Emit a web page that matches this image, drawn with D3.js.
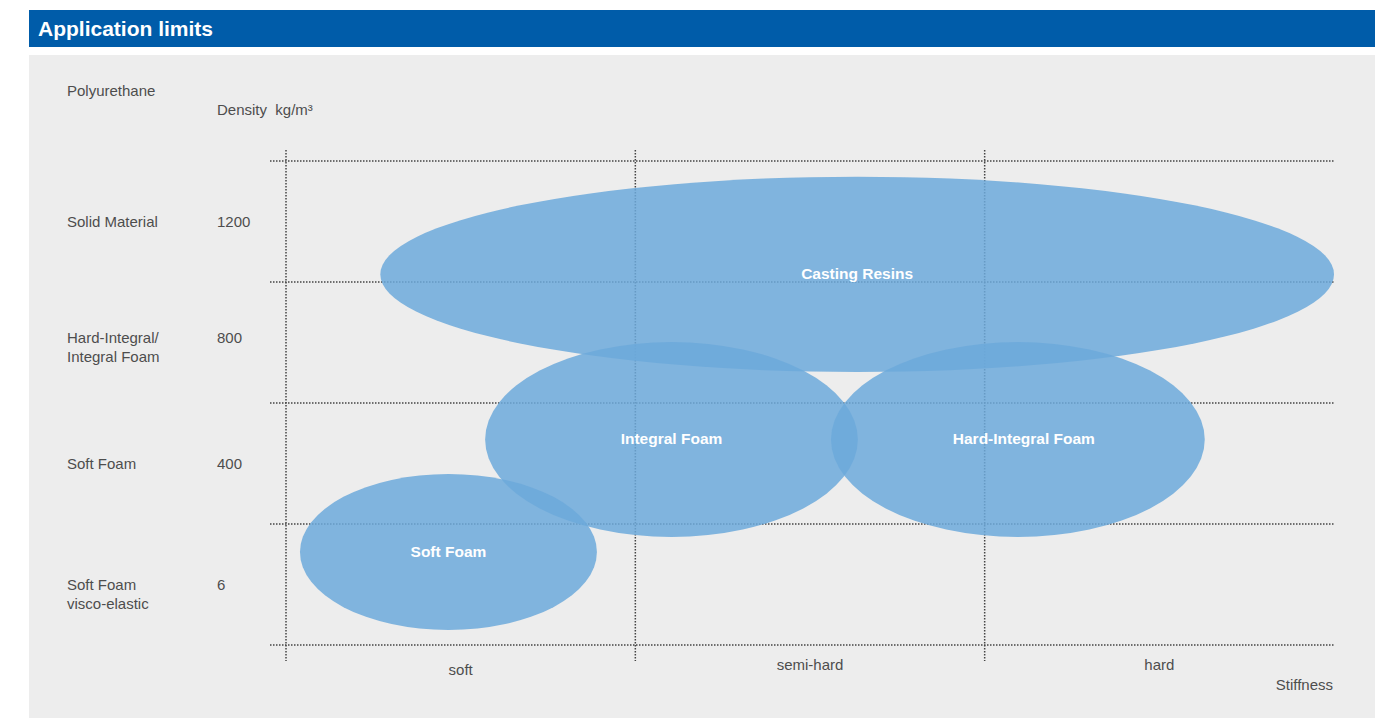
<!DOCTYPE html>
<html lang="en">
<head>
    <meta charset="UTF-8">
    <title>application-limits</title>
    <script src="https://cdn.jsdelivr.net/npm/d3@7/dist/d3.min.js"></script>
    <style>
        body{
            margin: 0;
            background: #fff;
        }
        text{
            font-family: "Liberation Sans", Arial, Helvetica, sans-serif;
        }
    </style>
</head>
<body>
<svg class="chart"></svg>
<script>

    // data
    var stiffnessLabels = ["soft", "semi-hard", "hard"];
    var densityLabels = ["6", "400", "800", "1200"];
    var materialLabels = [["Soft Foam", "visco-elastic"], ["Soft Foam"], ["Hard-Integral/", "Integral Foam"], ["Solid Material"]];
    var foamNames = ["Casting Resins", "Integral Foam", "Hard-Integral Foam", "Soft Foam"];
    // extents in stiffness columns (0..3) and density rows (0..4)
    var stiffMin = [0.27, 0.57, 1.56, 0.04];
    var stiffMax = [3.0, 1.637, 2.63, 0.89];
    var densMin = [2.256, 0.893, 0.893, 0.124];
    var densMax = [3.87, 2.504, 2.504, 1.413];

    var width = 1379, height = 718;

    var svg = d3.select('.chart')
        .attr('width', width)
        .attr('height', height);

    // header + panel
    svg.append('rect').attr('x', 29).attr('y', 10).attr('width', 1346).attr('height', 37).attr('fill', '#005ca9');
    svg.append('text').attr('x', 38).attr('y', 36).attr('fill', '#fff')
        .attr('font-size', 21).attr('font-weight', 'bold').text('Application limits');
    svg.append('rect').attr('x', 29).attr('y', 55).attr('width', 1346).attr('height', 663).attr('fill', '#ededed');

    // scales
    var x = d3.scaleLinear().domain([0, 3]).range([286, 1334]);
    var y = d3.scaleLinear().domain([0, 4]).range([645, 161]);

    // grid
    var grid = svg.append('g')
        .attr('stroke', '#444')
        .attr('stroke-width', 1.5)
        .attr('stroke-dasharray', '1.5 1.5');

    grid.selectAll('line.h')
        .data(d3.range(0, 5))
        .enter().append('line')
        .attr('class', 'h')
        .attr('x1', 270).attr('x2', x(3))
        .attr('y1', function (d) { return y(d); })
        .attr('y2', function (d) { return y(d); });

    grid.selectAll('line.v')
        .data(d3.range(0, 3))
        .enter().append('line')
        .attr('class', 'v')
        .attr('x1', function (d) { return x(d); })
        .attr('x2', function (d) { return x(d); })
        .attr('y1', y(4) - 11).attr('y2', y(0) + 16);

    // ellipses
    var foams = foamNames.map(function (n, i) {
        return {name: n, x0: stiffMin[i], x1: stiffMax[i], y0: densMin[i], y1: densMax[i]};
    });

    svg.append('g').selectAll('ellipse')
        .data(foams)
        .enter().append('ellipse')
        .attr('cx', function (d) { return (x(d.x0) + x(d.x1)) / 2; })
        .attr('cy', function (d) { return (y(d.y0) + y(d.y1)) / 2; })
        .attr('rx', function (d) { return (x(d.x1) - x(d.x0)) / 2; })
        .attr('ry', function (d) { return (y(d.y0) - y(d.y1)) / 2; })
        .attr('fill', 'rgb(108,169,218)')
        .attr('fill-opacity', 0.85);

    svg.append('g').selectAll('text')
        .data(foams)
        .enter().append('text')
        .attr('x', function (d) { return (x(d.x0) + x(d.x1)) / 2 + (d.name === 'Hard-Integral Foam' ? 6 : 0); })
        .attr('y', function (d) { return (y(d.y0) + y(d.y1)) / 2 + 5; })
        .attr('text-anchor', 'middle')
        .attr('fill', '#fff')
        .attr('font-size', 15.5)
        .attr('font-weight', 'bold')
        .text(function (d) { return d.name; });

    // left labels
    var txt = svg.append('g').attr('fill', '#4d4d4d').attr('font-size', 15);

    txt.append('text').attr('x', 67).attr('y', 96).text('Polyurethane');
    txt.append('text').attr('x', 217).attr('y', 115).text('Density\u00a0\u00a0kg/m³');

    densityLabels.forEach(function (d, i) {
        var cy = y(i + 0.5) + 5 - (i === 2 ? 5 : 0);
        txt.append('text').attr('x', 217).attr('y', cy).text(d);
        var t = txt.append('text').attr('x', 67).attr('y', cy);
        materialLabels[i].forEach(function (line, j) {
            t.append('tspan').attr('x', 67).attr('dy', j === 0 ? 0 : 19).text(line);
        });
    });

    // bottom labels
    stiffnessLabels.forEach(function (d, i) {
        txt.append('text')
            .attr('x', x(i + 0.5))
            .attr('y', i === 0 ? 675 : 670)
            .attr('text-anchor', 'middle')
            .text(d);
    });
    txt.append('text').attr('x', 1333).attr('y', 690).attr('text-anchor', 'end').text('Stiffness');

</script>
</body>
</html>
